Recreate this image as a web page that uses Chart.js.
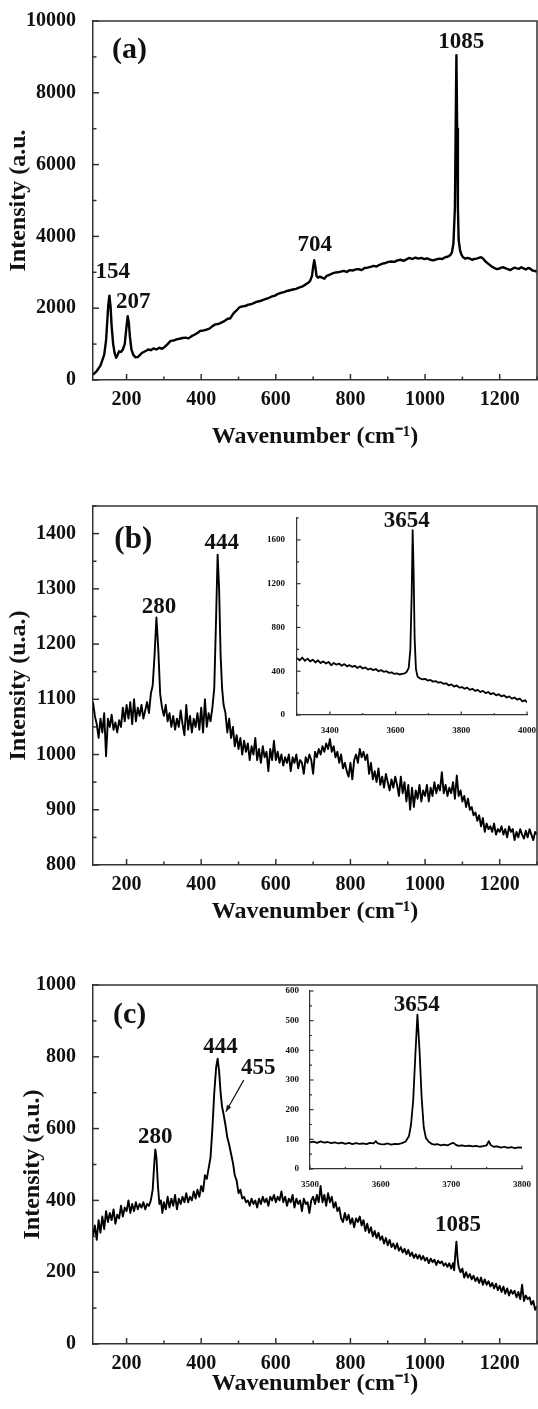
<!DOCTYPE html>
<html>
<head>
<meta charset="utf-8">
<script src="https://cdn.jsdelivr.net/npm/chart.js@4.4.0/dist/chart.umd.min.js"></script>
<style>
  html, body { margin: 0; padding: 0; background: #fff; }
  body { position: relative; width: 538px; height: 1409px; overflow: hidden; }
  canvas { position: absolute; }
</style>
</head>
<body>
<canvas id="chartA" width="538" height="455" style="left:0;top:0"></canvas>
<canvas id="chartB" width="538" height="460" style="left:0;top:470px"></canvas>
<canvas id="chartC" width="538" height="462" style="left:0;top:940px"></canvas>
<canvas id="insetB" width="276" height="230" style="left:262px;top:505px"></canvas>
<canvas id="insetC" width="263" height="215" style="left:275px;top:978px"></canvas>
<script>
// ---- data: [wavenumber, intensity] ----
const spectrumA = [
  [110,150],[120,250],[130,400],[140,700],[145,1100],[148,1600],[151,2100],[154,2350],[157,2050],[160,1500],
  [164,1000],[168,750],[172,620],[176,700],[180,800],[185,780],[190,850],[195,1000],[199,1400],[203,1780],
  [206,1600],[209,1200],[213,850],[218,700],[224,630],[230,640],[236,700],[242,760],[250,800],[258,850],
  [265,830],[272,880],[280,850],[288,900],[295,870],[302,920],[310,1000],[318,1090],[326,1100],[334,1130],
  [342,1150],[350,1170],[358,1180],[366,1160],[374,1220],[382,1260],[390,1310],[398,1370],[406,1380],[414,1400],
  [422,1430],[430,1500],[438,1550],[446,1560],[454,1600],[462,1640],[470,1700],[478,1720],[486,1850],[494,1930],
  [502,2020],[510,2050],[518,2060],[526,2100],[534,2110],[542,2150],[550,2180],[558,2200],[566,2230],[574,2260],
  [582,2290],[590,2330],[598,2350],[606,2400],[614,2430],[622,2450],[630,2480],[638,2500],[646,2520],[654,2540],
  [662,2570],[670,2600],[678,2650],[686,2700],[692,2760],[697,2900],[700,3150],[703,3340],[706,3150],[709,2900],
  [713,2850],[718,2880],[724,2850],[730,2820],[736,2900],[742,2920],[750,2960],[758,2990],[766,3000],[774,3020],
  [782,3040],[790,3010],[798,3060],[806,3050],[814,3080],[822,3090],[830,3060],[838,3120],[846,3130],[854,3150],
  [862,3180],[870,3160],[878,3210],[886,3240],[894,3260],[902,3290],[910,3300],[918,3290],[926,3330],[934,3350],
  [942,3320],[950,3360],[958,3400],[966,3370],[974,3410],[982,3380],[990,3400],[998,3370],[1006,3390],[1014,3350],
  [1022,3330],[1030,3360],[1038,3380],[1046,3370],[1054,3420],[1062,3440],[1068,3480],[1072,3560],[1076,3800],[1080,4800],
  [1082,7000],[1084,9050],[1086,7000],[1088,4800],[1090,3900],[1094,3600],[1098,3480],[1102,3420],[1108,3380],
  [1114,3400],[1120,3380],[1126,3350],[1132,3370],[1138,3380],[1144,3400],[1150,3420],[1156,3380],[1162,3300],[1168,3250],
  [1174,3200],[1180,3150],[1186,3120],[1192,3090],[1198,3100],[1204,3130],[1210,3140],[1216,3110],[1222,3090],[1228,3060],
  [1234,3100],[1240,3130],[1246,3110],[1252,3100],[1258,3140],[1264,3110],[1270,3080],[1276,3120],[1282,3100],[1288,3050],
  [1294,3040],[1300,3010]
];

const spectrumB = [
  [110,1095],[115,1070],[120,1055],[125,1030],[130,1065],[135,1040],[140,1075],[145,997],[150,1065],[155,1050],
  [160,1072],[165,1045],[170,1058],[175,1040],[180,1062],[185,1050],[190,1085],[195,1060],[200,1090],[205,1065],
  [210,1095],[215,1055],[220,1100],[225,1060],[230,1085],[235,1070],[240,1090],[245,1065],[250,1080],[255,1095],
  [260,1075],[265,1110],[270,1125],[275,1180],[280,1248],[285,1190],[290,1110],[295,1085],[300,1070],[305,1090],
  [310,1060],[315,1075],[320,1050],[325,1070],[330,1045],[335,1065],[340,1050],[345,1080],[350,1055],[355,1035],
  [360,1090],[365,1045],[370,1070],[375,1040],[380,1065],[385,1050],[390,1075],[395,1045],[400,1085],[405,1040],
  [410,1100],[415,1050],[420,1075],[425,1060],[430,1085],[435,1120],[440,1250],[444,1362],[448,1300],[452,1180],
  [456,1120],[460,1090],[465,1075],[470,1040],[475,1065],[480,1030],[485,1050],[490,1015],[495,1035],[500,1010],
  [505,1030],[510,1000],[515,1025],[520,1005],[525,1020],[530,990],[535,1015],[540,1000],[545,1030],[550,990],
  [555,1010],[560,985],[565,1015],[570,995],[575,1005],[580,970],[585,1010],[590,990],[595,1025],[600,990],
  [605,1005],[610,985],[615,1000],[620,980],[625,995],[630,985],[635,1000],[640,970],[645,995],[650,985],
  [655,1000],[660,975],[665,990],[670,985],[675,965],[680,995],[685,985],[690,1000],[695,990],[700,965],
  [705,1005],[710,995],[715,1010],[720,1000],[725,1015],[730,1005],[735,1020],[740,1010],[745,1028],[750,1005],
  [755,1015],[760,995],[765,1005],[770,985],[775,1000],[780,975],[785,985],[790,970],[795,960],[800,985],
  [805,955],[810,990],[815,1000],[820,985],[825,1010],[830,995],[835,1005],[840,990],[845,1000],[850,965],
  [855,985],[860,955],[865,970],[870,950],[875,975],[880,945],[885,960],[890,940],[895,965],[900,950],
  [905,935],[910,955],[915,940],[920,960],[925,945],[930,925],[935,960],[940,930],[945,950],[950,915],
  [955,945],[960,900],[965,940],[970,905],[975,935],[980,920],[985,945],[990,915],[995,935],[1000,925],
  [1005,945],[1010,915],[1015,940],[1020,925],[1025,950],[1030,930],[1035,945],[1040,935],[1045,968],[1050,930],
  [1055,945],[1060,925],[1065,940],[1070,930],[1075,950],[1080,920],[1085,962],[1090,925],[1095,935],[1100,915],
  [1105,925],[1110,905],[1115,920],[1120,900],[1125,905],[1130,890],[1135,895],[1140,880],[1145,890],[1150,870],
  [1155,885],[1160,860],[1165,875],[1170,865],[1175,870],[1180,860],[1185,875],[1190,855],[1195,865],[1200,860],
  [1205,870],[1210,855],[1215,865],[1220,850],[1225,870],[1230,860],[1235,865],[1240,845],[1245,860],[1250,850],
  [1255,865],[1260,855],[1265,848],[1270,862],[1275,850],[1280,865],[1285,855],[1290,845],[1295,860],[1300,855]
];

const spectrumC = [
  [110,300],[115,330],[120,290],[125,345],[130,310],[135,355],[140,320],[145,370],[150,340],[155,365],
  [160,345],[165,375],[170,335],[175,360],[180,350],[185,385],[190,355],[195,380],[200,370],[205,400],
  [210,365],[215,390],[220,370],[225,395],[230,375],[235,390],[240,380],[245,395],[250,375],[255,390],
  [260,385],[265,400],[270,430],[274,500],[277,542],[280,520],[284,440],[288,390],[292,400],[296,365],
  [300,395],[305,375],[310,410],[315,380],[320,405],[325,385],[330,415],[335,375],[340,405],[345,390],
  [350,410],[355,395],[360,420],[365,395],[370,410],[375,400],[380,425],[385,405],[390,430],[395,410],
  [400,440],[405,425],[410,470],[415,460],[420,490],[425,520],[430,600],[435,700],[440,770],[444,795],
  [448,760],[452,700],[456,660],[460,640],[465,610],[470,575],[475,555],[480,530],[485,505],[490,470],
  [495,455],[500,420],[505,430],[510,405],[515,410],[520,395],[525,400],[530,385],[535,405],[540,390],
  [545,400],[550,380],[555,405],[560,390],[565,410],[570,395],[575,405],[580,385],[585,410],[590,400],
  [595,415],[600,395],[605,410],[610,400],[615,425],[620,395],[625,410],[630,385],[635,405],[640,395],
  [645,415],[650,380],[655,405],[660,390],[665,400],[670,370],[675,405],[680,390],[685,395],[690,365],
  [695,400],[700,410],[705,390],[710,415],[715,395],[720,440],[725,395],[730,415],[735,385],[740,420],
  [745,395],[750,410],[755,380],[760,395],[765,370],[770,380],[775,350],[780,340],[785,365],[790,345],
  [795,360],[800,335],[805,350],[810,325],[815,350],[820,340],[825,355],[830,330],[835,345],[840,315],
  [845,335],[850,310],[855,325],[860,300],[865,315],[870,295],[875,310],[880,290],[885,300],[890,280],
  [895,295],[900,275],[905,290],[910,270],[915,280],[920,265],[925,280],[930,260],[935,270],[940,255],
  [945,265],[950,250],[955,262],[960,245],[965,255],[970,240],[975,250],[980,238],[985,248],[990,235],
  [995,245],[1000,232],[1005,240],[1010,225],[1015,238],[1020,228],[1025,235],[1030,220],[1035,232],[1040,225],
  [1045,230],[1050,218],[1055,225],[1060,215],[1065,225],[1070,210],[1075,225],[1078,205],[1081,250],[1084,285],
  [1087,240],[1090,215],[1095,200],[1100,210],[1105,185],[1110,200],[1115,185],[1120,195],[1125,180],[1130,190],
  [1135,175],[1140,185],[1145,170],[1150,185],[1155,165],[1160,180],[1165,165],[1170,175],[1175,160],[1180,170],
  [1185,155],[1190,168],[1195,150],[1200,162],[1205,145],[1210,160],[1215,140],[1220,155],[1225,135],[1230,150],
  [1235,140],[1240,148],[1245,130],[1250,145],[1255,125],[1260,165],[1265,120],[1270,135],[1275,125],[1280,130],
  [1285,110],[1290,120],[1295,95],[1300,105]
];

const insetSpectrumB = [
  [3300,520],[3308,500],[3316,525],[3324,495],[3332,515],[3340,490],[3348,505],[3356,480],[3364,500],[3372,475],
  [3380,490],[3388,470],[3396,485],[3404,455],[3412,475],[3420,460],[3428,470],[3436,450],[3444,465],[3452,445],
  [3460,455],[3468,440],[3476,450],[3484,430],[3492,445],[3500,425],[3508,435],[3516,415],[3524,425],[3532,410],
  [3540,420],[3548,400],[3556,410],[3564,395],[3572,400],[3580,385],[3588,390],[3596,375],[3604,380],[3612,370],
  [3620,375],[3628,380],[3634,395],[3640,430],[3645,600],[3649,1100],[3652,1690],[3655,1300],[3658,700],[3662,420],
  [3667,350],[3674,335],[3682,325],[3690,330],[3698,315],[3706,320],[3714,305],[3722,310],[3730,295],[3738,300],
  [3746,285],[3754,290],[3762,270],[3770,280],[3778,260],[3786,270],[3794,250],[3802,255],[3810,240],[3818,250],
  [3826,230],[3834,240],[3842,220],[3850,230],[3858,210],[3866,220],[3874,200],[3882,210],[3890,190],[3898,200],
  [3906,180],[3914,190],[3922,170],[3930,180],[3938,160],[3946,170],[3954,150],[3962,160],[3970,140],[3978,150],
  [3986,125],[3994,135],[4000,115]
];

const insetSpectrumC = [
  [3500,90],[3505,92],[3510,88],[3515,93],[3520,89],[3525,91],[3530,87],[3535,90],[3540,86],[3545,89],
  [3550,85],[3555,88],[3560,84],[3565,87],[3570,85],[3575,86],[3580,84],[3585,88],[3590,86],[3593,94],
  [3596,86],[3600,84],[3605,83],[3610,86],[3615,82],[3620,85],[3625,84],[3630,87],[3635,92],[3640,110],
  [3643,150],[3646,230],[3649,380],[3652,520],[3655,400],[3658,240],[3661,140],[3664,105],[3668,92],[3672,85],
  [3676,82],[3680,84],[3685,80],[3690,82],[3695,80],[3700,86],[3703,88],[3706,82],[3710,78],[3715,80],
  [3720,77],[3725,79],[3730,76],[3735,78],[3740,75],[3745,77],[3750,80],[3753,94],[3756,80],[3760,75],
  [3765,76],[3770,72],[3775,75],[3780,71],[3785,74],[3790,70],[3795,73],[3800,72]
];

// tick labels
const mainXTicks = [200, 400, 600, 800, 1000, 1200];
const yTicksA = [0, 2000, 4000, 6000, 8000, 10000];
const yTicksB = [800, 900, 1000, 1100, 1200, 1300, 1400];
const yTicksC = [0, 200, 400, 600, 800, 1000];
const insetXTicksB = [3400, 3600, 3800, 4000];
const insetYTicksB = [0, 400, 800, 1200, 1600];
const insetXTicksC = [3500, 3600, 3700, 3800];
const insetYTicksC = [0, 100, 200, 300, 400, 500, 600];

// peak labels: [text, wavenumber, intensity]
const peaksA = [['154', 163, 3014], ['207', 218, 2179], ['704', 704, 3757], ['1085', 1097, 9415]];
const peaksB = [['280', 287, 1267], ['444', 455, 1382]];
const peaksC = [['280', 277, 577], ['444', 452, 828], ['455', 553, 768], ['1085', 1088, 331]];
const peaksInsetB = [['3654', 3634, 1768]];
const peaksInsetC = [['3654', 3651, 553]];

const SERIF = "'Liberation Serif', 'Times New Roman', serif";
const INK = '#111';
const AXIS = '#333';

// inward ticks (major + minor) and the top/right frame
const frameTicks = {
    id: 'frameTicks',
    afterDraw(chart, args, opts) {
        const { ctx, chartArea: a } = chart;
        ctx.save();
        ctx.strokeStyle = AXIS;
        ctx.lineWidth = opts.width;
        if (opts.box) {
            ctx.beginPath();
            ctx.moveTo(a.left, a.top);
            ctx.lineTo(a.right, a.top);
            ctx.lineTo(a.right, a.bottom);
            ctx.stroke();
        }
        ['x', 'y'].forEach(id => {
            const scale = chart.scales[id];
            const t = opts[id];
            const first = Math.ceil(scale.min / t.minor - 1e-9) * t.minor;
            for (let i = 0; first + i * t.minor <= scale.max + 1e-9; i++) {
                const v = first + i * t.minor;
                const isMajor = Math.abs(v / t.major - Math.round(v / t.major)) < 1e-6;
                const len = isMajor ? opts.majorLen : opts.minorLen;
                const p = scale.getPixelForValue(v);
                ctx.beginPath();
                if (id === 'x') {
                    ctx.moveTo(p, a.bottom);
                    ctx.lineTo(p, a.bottom - len);
                } else {
                    ctx.moveTo(a.left, p);
                    ctx.lineTo(a.left + len, p);
                }
                ctx.stroke();
            }
        });
        ctx.restore();
    }
};

// panel letter, peak numbers and the arrow of panel (c)
const peakLabels = {
    id: 'peakLabels',
    afterDatasetsDraw(chart, args, opts) {
        const { ctx } = chart;
        const sx = chart.scales.x;
        const sy = chart.scales.y;
        ctx.save();
        ctx.fillStyle = INK;
        ctx.textAlign = 'center';
        ctx.textBaseline = 'middle';
        (opts.items || []).forEach(([text, x, y]) => {
            ctx.font = `bold ${opts.size}px ${SERIF}`;
            ctx.fillText(text, sx.getPixelForValue(x), sy.getPixelForValue(y));
        });
        if (opts.letter) {
            const [text, x, y, size] = opts.letter;
            ctx.font = `bold ${size}px ${SERIF}`;
            ctx.fillText(text, sx.getPixelForValue(x), sy.getPixelForValue(y));
        }
        if (opts.arrow) {
            const [x0, y0, x1, y1] = opts.arrow;
            const p0 = [sx.getPixelForValue(x0), sy.getPixelForValue(y0)];
            const p1 = [sx.getPixelForValue(x1), sy.getPixelForValue(y1)];
            const ang = Math.atan2(p1[1] - p0[1], p1[0] - p0[0]);
            ctx.strokeStyle = INK;
            ctx.lineWidth = 1.2;
            ctx.beginPath();
            ctx.moveTo(p0[0], p0[1]);
            ctx.lineTo(p1[0], p1[1]);
            ctx.stroke();
            ctx.beginPath();
            ctx.moveTo(p1[0], p1[1]);
            ctx.lineTo(p1[0] - 7 * Math.cos(ang - 0.35), p1[1] - 7 * Math.sin(ang - 0.35));
            ctx.lineTo(p1[0] - 7 * Math.cos(ang + 0.35), p1[1] - 7 * Math.sin(ang + 0.35));
            ctx.closePath();
            ctx.fill();
        }
        ctx.restore();
    }
};

function makeChart(canvasId, spectrum, cfg) {
    const tickFont = { family: SERIF, size: cfg.tickSize, weight: 'bold' };
    const titleFont = { family: SERIF, size: 24, weight: 'bold' };
    const plain = v => String(v);
    return new Chart(document.getElementById(canvasId), {
        type: 'line',
        data: {
            datasets: [{
                data: spectrum.map(([x, y]) => ({ x, y })),
                borderColor: '#000',
                borderWidth: cfg.lineWidth,
                borderJoinStyle: 'round',
                pointRadius: 0,
                tension: 0,
                fill: false
            }]
        },
        options: {
            responsive: false,
            animation: false,
            events: [],
            layout: { padding: { top: cfg.padTop, right: cfg.padRight, left: 0, bottom: 0 } },
            plugins: {
                legend: { display: false },
                tooltip: { enabled: false },
                frameTicks: {
                    box: cfg.box, width: cfg.axisWidth,
                    majorLen: cfg.majorLen, minorLen: cfg.minorLen,
                    x: cfg.xStep, y: cfg.yStep
                },
                peakLabels: { items: cfg.peaks, size: 23, letter: cfg.letter, arrow: cfg.arrow }
            },
            scales: {
                x: {
                    type: 'linear',
                    min: cfg.xMin,
                    max: cfg.xMax,
                    afterFit: s => { s.height = cfg.xAxisH; },
                    afterBuildTicks: s => { s.ticks = cfg.xTicks.map(v => ({ value: v })); },
                    grid: { display: false },
                    border: { display: true, color: AXIS, width: cfg.axisWidth },
                    ticks: { font: tickFont, color: INK, padding: cfg.xPad, maxRotation: 0, autoSkip: false, callback: plain },
                    title: cfg.xTitle ? {
                        display: true, text: cfg.xTitle, font: titleFont, color: INK,
                        padding: { top: 0, bottom: 4 }
                    } : { display: false }
                },
                y: {
                    type: 'linear',
                    min: cfg.yMin,
                    max: cfg.yMax,
                    afterFit: s => { s.width = cfg.yAxisW; },
                    afterBuildTicks: s => { s.ticks = cfg.yTicks.map(v => ({ value: v })); },
                    grid: { display: false },
                    border: { display: true, color: AXIS, width: cfg.axisWidth },
                    ticks: { font: tickFont, color: INK, padding: cfg.yPad, autoSkip: false, callback: plain },
                    title: cfg.yTitle ? {
                        display: true, text: cfg.yTitle, font: titleFont, color: INK,
                        padding: { top: cfg.yTitlePad, bottom: 0 }
                    } : { display: false }
                }
            }
        },
        plugins: [frameTicks, peakLabels]
    });
}

const mainBase = {
    xMin: 110, xMax: 1300, xTicks: mainXTicks, xStep: { major: 200, minor: 100 },
    tickSize: 20, xPad: 0, yPad: 9, yAxisW: 93, padRight: 1,
    box: true, axisWidth: 1.5, majorLen: 6, minorLen: 3.5,
    xTitle: 'Wavenumber (cm⁻¹)'
};

makeChart('chartA', spectrumA, Object.assign({}, mainBase, {
    yMin: 0, yMax: 10000, yTicks: yTicksA, yStep: { major: 2000, minor: 1000 },
    padTop: 21, xAxisH: 75, lineWidth: 2.4,
    yTitle: 'Intensity (a.u.', yTitlePad: 4.6,
    peaks: peaksA, letter: ['(a)', 208, 9184, 30]
}));

makeChart('chartB', spectrumB, Object.assign({}, mainBase, {
    yMin: 800, yMax: 1450, yTicks: yTicksB, yStep: { major: 100, minor: 50 },
    padTop: 36, xAxisH: 65, lineWidth: 1.9,
    yTitle: 'Intensity (u.a.)', yTitlePad: 4.6,
    peaks: peaksB, letter: ['(b)', 218, 1388, 31]
}));

makeChart('chartC', spectrumC, Object.assign({}, mainBase, {
    yMin: 0, yMax: 1000, yTicks: yTicksC, yStep: { major: 200, minor: 100 },
    padTop: 45, xAxisH: 58, lineWidth: 1.9,
    yTitle: 'Intensity (a.u.)', yTitlePad: 18.2,
    peaks: peaksC, letter: ['(c)', 208, 916, 30], arrow: [514, 735, 466, 647]
}));

const insetBase = {
    tickSize: 9, xPad: 2, box: false, axisWidth: 1.2, majorLen: 3.5, minorLen: 2,
    lineWidth: 1.8, xTitle: null, yTitle: null
};

makeChart('insetB', insetSpectrumB, Object.assign({}, insetBase, {
    xMin: 3300, xMax: 4000, xTicks: insetXTicksB, xStep: { major: 200, minor: 100 },
    yMin: 0, yMax: 1800, yTicks: insetYTicksB, yStep: { major: 400, minor: 200 },
    padTop: 13, padRight: 11, xAxisH: 20, yAxisW: 35, yPad: 4,
    peaks: peaksInsetB
}));

makeChart('insetC', insetSpectrumC, Object.assign({}, insetBase, {
    xMin: 3500, xMax: 3800, xTicks: insetXTicksC, xStep: { major: 100, minor: 50 },
    yMin: 0, yMax: 600, yTicks: insetYTicksC, yStep: { major: 100, minor: 50 },
    padTop: 13, padRight: 16, xAxisH: 24, yAxisW: 35, yPad: 3,
    peaks: peaksInsetC
}));
</script>
</body>
</html>
